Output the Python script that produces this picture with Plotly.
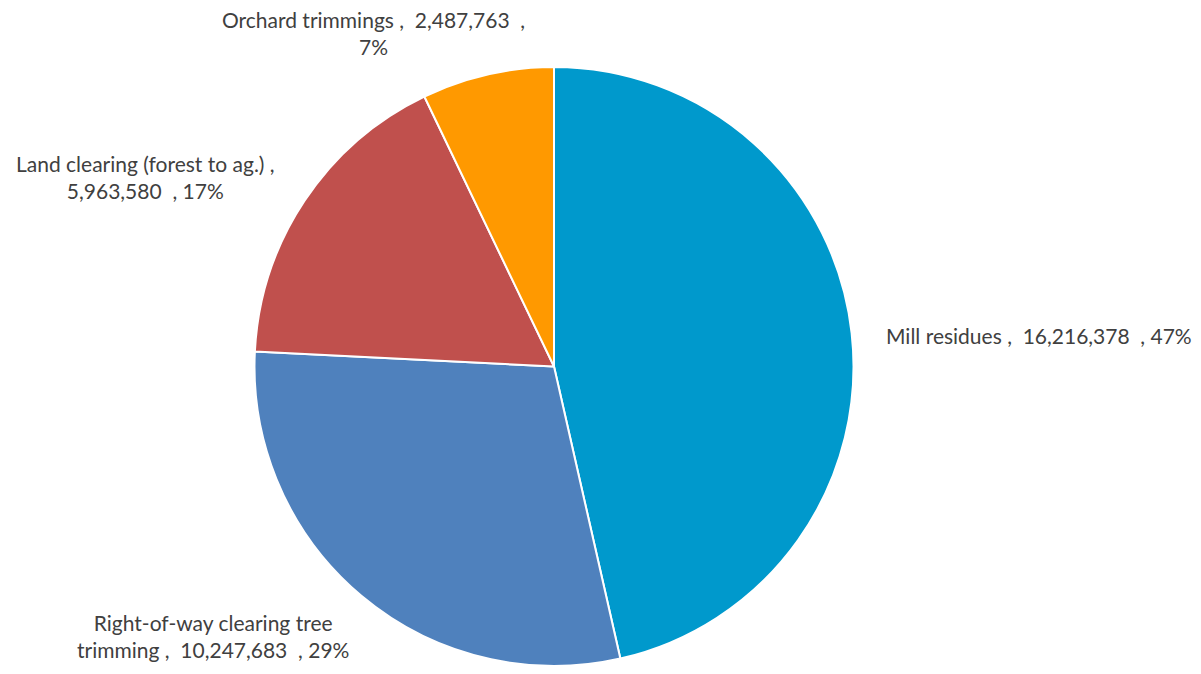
import plotly.graph_objects as go

categories = ["Mill residues", "Right-of-way clearing tree trimming",
              "Land clearing (forest to ag.)", "Orchard trimmings"]
values = [16216378, 10247683, 5963580, 2487763]
pct_labels = ["47%", "29%", "17%", "7%"]
colors = ["#0099CC", "#4F81BD", "#C0504D", "#FF9900"]

NB = "\u00a0"
def fmt(v):
    return f"{v:,}"

label_texts = [
    f"{categories[0]} ,{NB}{NB}{fmt(values[0])}{NB} , {pct_labels[0]}",
    f"Right-of-way clearing tree<br>trimming ,{NB}{NB}{fmt(values[1])}{NB} , {pct_labels[1]}",
    f"{categories[2]} ,<br>{fmt(values[2])}{NB} , {pct_labels[2]}",
    f"{categories[3]} ,{NB}{NB}{fmt(values[3])}{NB} ,<br>{pct_labels[3]}",
]

# page has an 8px body margin; plot area is about 1185 x 658
W, H, OFF = 1185.0, 658.0, 8.0
def px(X):
    return (X - OFF) / W
def py(Y):
    return 1 - (Y - OFF) / H

# label anchor positions (screen px) and alignment
label_pos = [
    (884, 335, "left"),
    (213, 636, "center"),
    (145, 177, "center"),
    (373, 33, "center"),
]

fig = go.Figure(go.Pie(
    labels=categories, values=values, sort=False, direction="clockwise",
    rotation=0, textinfo="none", hoverinfo="label+value+percent",
    marker=dict(colors=colors, line=dict(color="white", width=2)),
    domain=dict(x=[px(554 - 300), px(554 + 300)],
                y=[0, 1 - 59 / H]),
    showlegend=False,
))

for txt, (x, y, al) in zip(label_texts, label_pos):
    fig.add_annotation(x=px(x), y=py(y), xref="paper", yref="paper", text=txt,
                       showarrow=False, xanchor="left" if al == "left" else "center",
                       yanchor="middle", align=al,
                       font=dict(family="Lato, Carlito, sans-serif", size=21, color="#404040"))

fig.update_layout(margin=dict(l=0, r=0, t=0, b=0), paper_bgcolor="white",
                  plot_bgcolor="white")
fig.write_html("out.html")
